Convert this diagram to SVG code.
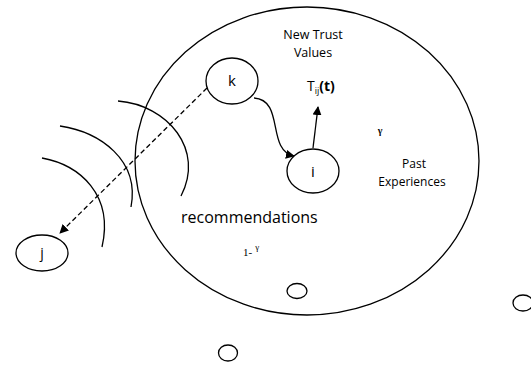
<svg xmlns="http://www.w3.org/2000/svg" width="531" height="365" viewBox="0 0 531 365">
<defs>
<marker id="ah" viewBox="0 0 10 10" refX="9" refY="5" markerWidth="9" markerHeight="9" markerUnits="userSpaceOnUse" orient="auto"><path d="M0,0 L10,5 L0,10 z" fill="#000"/></marker>
<style>
.ln{fill:none;stroke:#000;stroke-width:1.3}
.nd{fill:#fff;stroke:#000;stroke-width:1.3}
.t{font-family:"Open Sans","Liberation Sans",sans-serif;fill:#000}
.g{font-family:"Liberation Serif",serif;fill:#000}
</style>
</defs>
<rect width="531" height="365" fill="#fff"/>
<g id="domain"><ellipse cx="307" cy="161" rx="172" ry="154" class="ln"/></g>
<g id="arcs">
<path d="M118,101 C168,105 205,150 181,196" class="ln"/>
<path d="M60,126 C100,132 140,160 131,207" class="ln"/>
<path d="M42,158 C80,165 114,195 102,247" class="ln"/>
</g>
<g id="connectors">
<path d="M207,88 L60,233" class="ln" stroke-dasharray="5,3" marker-end="url(#ah)"/>
<path d="M254,98 C285,100 266,150 294,156" class="ln" marker-end="url(#ah)"/>
<path d="M313,148 L318,107" class="ln" marker-end="url(#ah)"/>
</g>
<g id="node-k"><ellipse cx="232" cy="81" rx="26" ry="23" class="nd"/><text x="232" y="86" class="t" font-size="15" text-anchor="middle">k</text></g>
<g id="node-i"><ellipse cx="313" cy="171" rx="26" ry="22" class="nd"/><text x="313" y="177" class="t" font-size="15" text-anchor="middle">i</text></g>
<g id="node-j"><ellipse cx="42" cy="253" rx="26" ry="18" class="nd"/><text x="42" y="258" class="t" font-size="14" text-anchor="middle">j</text></g>
<g id="node-s1"><ellipse cx="297" cy="291" rx="10" ry="7.5" class="nd"/></g>
<g id="node-s2"><ellipse cx="523" cy="303" rx="10" ry="8" class="nd"/></g>
<g id="node-s3"><ellipse cx="228" cy="353" rx="9.5" ry="8" class="nd"/></g>
<text x="313" y="39" class="t" font-size="12.5" text-anchor="middle">New Trust</text>
<text x="313" y="57" class="t" font-size="12.5" text-anchor="middle">Values</text>
<text x="307" y="91" class="t" font-size="14">T<tspan font-size="9" dy="3">ij</tspan><tspan dy="-3" font-weight="bold">(t)</tspan></text>
<text x="380" y="134" class="g" font-size="10" font-weight="bold" text-anchor="middle">γ</text>
<text x="414" y="168" class="t" font-size="12" text-anchor="middle">Past</text>
<text x="412" y="186" class="t" font-size="12" text-anchor="middle">Experiences</text>
<text x="181" y="223" class="t" font-size="16">recommendations</text>
<text x="243" y="256" class="g" font-size="11">1-<tspan dx="3" dy="-6" font-size="9">γ</tspan></text>
</svg>
